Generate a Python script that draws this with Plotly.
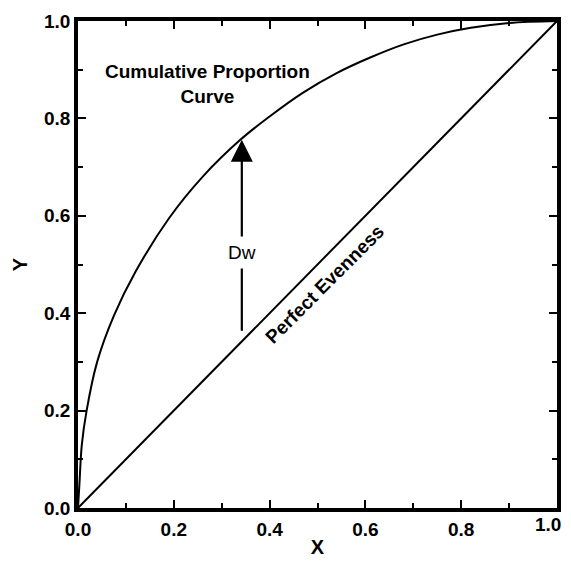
import plotly.graph_objects as go

# Cumulative proportion curve
curve_x = [0, 0.003, 0.008, 0.018, 0.04, 0.075, 0.12, 0.19, 0.26, 0.34,
           0.40, 0.47, 0.54, 0.61, 0.68, 0.75, 0.82, 0.90, 1.0]
curve_y = [0, 0.05, 0.13, 0.20, 0.30, 0.395, 0.485, 0.595, 0.68, 0.757,
           0.804, 0.853, 0.893, 0.925, 0.952, 0.972, 0.986, 0.996, 1.0]

# Perfect evenness line
even_x = [0, 1]
even_y = [0, 1]

# Dw arrow
arrow_x = 0.342
arrow_y0 = 0.361
arrow_y1 = 0.756

tick_vals = [0.0, 0.2, 0.4, 0.6, 0.8, 1.0]
tick_text = ["0.0", "0.2", "0.4", "0.6", "0.8", "1.0"]

FONT = "Liberation Sans, Arial, sans-serif"

fig = go.Figure()
fig.add_trace(go.Scatter(x=curve_x, y=curve_y, mode="lines",
                         line=dict(color="black", width=2, shape="spline", smoothing=1),
                         showlegend=False, hoverinfo="skip"))
fig.add_trace(go.Scatter(x=even_x, y=even_y, mode="lines",
                         line=dict(color="black", width=2),
                         showlegend=False, hoverinfo="skip"))

# arrow
fig.add_annotation(x=arrow_x, y=arrow_y1, ax=arrow_x, ay=arrow_y0,
                   xref="x", yref="y", axref="x", ayref="y",
                   text="", showarrow=True, arrowhead=2, arrowsize=2,
                   arrowwidth=2.2, arrowcolor="black")
fig.add_annotation(x=arrow_x, y=0.524, xref="x", yref="y", text="Dw",
                   showarrow=False, bgcolor="white", borderpad=5,
                   font=dict(family=FONT, size=19, color="black"))

fig.add_annotation(x=0.27, y=0.87, xref="x", yref="y",
                   text="<b>Cumulative Proportion</b><br><b>Curve</b>",
                   showarrow=False, align="center",
                   font=dict(family=FONT, size=19, color="black"))

fig.add_annotation(x=0.515, y=0.458, xref="x", yref="y",
                   text="<b>Perfect Evenness</b>", textangle=-45,
                   showarrow=False,
                   font=dict(family=FONT, size=19, color="black"))

# last x tick label drawn as an annotation so it is not clipped at the page edge
fig.add_annotation(x=tick_vals[-1], y=0, xref="x", yref="paper",
                   text=tick_text[-1], showarrow=False,
                   xanchor="right", yanchor="top", xshift=6, yshift=-4,
                   font=dict(family=FONT, size=19, color="black", weight="bold"))

axis_common = dict(
    range=[0, 1], tickvals=tick_vals,
    ticks="inside", ticklen=8, tickwidth=2, tickcolor="black",
    showline=True, linewidth=3.5, linecolor="black", mirror="allticks",
    showgrid=False, zeroline=False, automargin=False,
    tickfont=dict(family=FONT, size=19, color="black", weight="bold"),
    minor=dict(dtick=0.1, tick0=0, ticks="inside", ticklen=5, tickwidth=2,
               tickcolor="black", showgrid=False),
)

fig.update_xaxes(**axis_common, ticktext=tick_text[:-1] + [""], ticklabelstandoff=1,
                 title=dict(text="<b>X</b>", standoff=2,
                            font=dict(family=FONT, size=20, color="black")))
fig.update_yaxes(**axis_common, ticktext=tick_text, ticklabelstandoff=0,
                 title=dict(text="<b>Y</b>", standoff=12,
                            font=dict(family=FONT, size=20, color="black")))

# page body has an 8px margin; size the figure so the page does not scroll
fig.update_layout(width=563, height=551,
                  margin=dict(l=70, r=14, t=13, b=51),
                  plot_bgcolor="white", paper_bgcolor="white")

fig.write_html("out.html")
